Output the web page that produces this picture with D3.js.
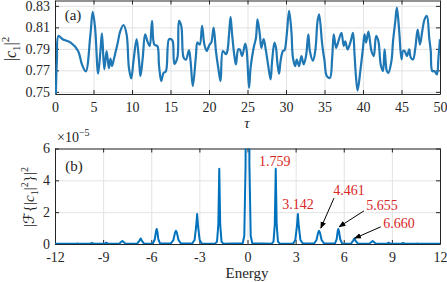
<!DOCTYPE html>
<html>
<head>
<meta charset="utf-8">
<script src="https://cdn.jsdelivr.net/npm/d3@7"></script>
<style>
  body { margin: 0; background: #fff; }
  svg { display: block; font-family: 'Liberation Serif', serif; }
  .grid line { stroke: #e3e3e3; stroke-width: 1; }
  .grid .domain { display: none; }
  .ax line, .ax .domain { stroke: #262626; }
  .ax text { fill: #262626; font-size: 14px; font-family: 'Liberation Serif', serif; }
</style>
</head>
<body>
<div id="chart"></div>
<script>
/** Panel (a): |c1|^2 against tau **/
const tau = [0, 0.1, 0.25, 0.45, 1, 2, 3, 3.5, 4, 4.6, 4.9, 5.2, 5.6, 5.9, 6.1, 6.4, 6.7, 7.0, 7.2, 7.4, 7.6,
  7.8, 8.1, 8.5, 8.9, 9.3, 9.6, 9.9, 10.2, 10.6, 10.9, 11.1, 11.4, 11.7, 12.0, 12.3, 12.6, 12.9, 13.3,
  13.5, 13.8, 14.1, 14.4, 14.8, 15.1, 15.3, 15.5, 15.9, 16.1, 16.4, 16.7, 17.0, 17.4, 17.6, 17.9, 18.3,
  18.5, 18.8, 19.1, 19.4, 19.7, 19.9, 20.1, 20.3, 20.6, 20.9, 21.2, 21.5, 21.8, 22.2, 22.4, 22.6, 22.8,
  23.0, 23.3, 23.5, 23.8, 24.0, 24.3, 24.7, 24.9, 25.2, 25.4, 25.8, 26.1, 26.3, 26.6, 26.8, 27.1, 27.4,
  27.7, 28.0, 28.2, 28.5, 28.7, 28.9, 29.1, 29.3, 29.6, 29.8, 30.1, 30.4, 30.7, 30.9, 31.2, 31.4, 31.7,
  32.0, 32.3, 32.6, 32.9, 33.1, 33.5, 33.8, 34.1, 34.3, 34.7, 35.0, 35.3, 35.7, 36.0, 36.2, 36.5, 36.8,
  37.2, 37.5, 37.7, 38.0, 38.4, 38.7, 38.9, 39.1, 39.3, 39.7, 40.0, 40.2, 40.4, 40.7, 41.1, 41.4, 41.7,
  42.0, 42.3, 42.6, 42.8, 43.1, 43.3, 43.7, 43.9, 44.2, 44.4, 44.7, 45.0, 45.2, 45.4, 45.7, 46.0, 46.2,
  46.5, 46.8, 47.1, 47.4, 47.7, 48.0, 48.3, 48.6, 48.8, 49.0, 49.3, 49.6, 49.8, 50.0];
const c1sq = [0.700, 0.745, 0.780, 0.802, 0.799, 0.796, 0.788, 0.7755, 0.769, 0.8035, 0.8244, 0.810, 0.767,
  0.788, 0.8045, 0.771, 0.788, 0.772, 0.781, 0.774, 0.779, 0.785, 0.794, 0.807, 0.8122, 0.8035, 0.7724,
  0.7625, 0.779, 0.799, 0.780, 0.7646, 0.782, 0.8035, 0.797, 0.7926, 0.816, 0.794, 0.7925, 0.7755, 0.760,
  0.7677, 0.769, 0.799, 0.799, 0.797, 0.776, 0.782, 0.816, 0.8113, 0.782, 0.780, 0.7886, 0.779, 0.7553,
  0.7833, 0.7958, 0.794, 0.8113, 0.794, 0.788, 0.791, 0.7942, 0.7958, 0.8098, 0.788, 0.7724, 0.760, 0.788,
  0.785, 0.7886, 0.8035, 0.8197, 0.8035, 0.7833, 0.7755, 0.7895, 0.7895, 0.7833, 0.7948, 0.788, 0.7537,
  0.7724, 0.791, 0.8003, 0.8175, 0.8035, 0.791, 0.799, 0.788, 0.774, 0.7615, 0.779, 0.7958, 0.791, 0.7755,
  0.767, 0.779, 0.788, 0.7886, 0.8035, 0.8253, 0.8066, 0.782, 0.774, 0.780, 0.774, 0.7833, 0.7755, 0.7833,
  0.8035, 0.788, 0.779, 0.788, 0.816, 0.8222, 0.7942, 0.779, 0.7646, 0.763, 0.782, 0.8035, 0.791, 0.797,
  0.805, 0.7926, 0.797, 0.7895, 0.797, 0.805, 0.7849, 0.763, 0.7512, 0.7724, 0.791, 0.8035, 0.7958, 0.806,
  0.788, 0.7833, 0.802, 0.797, 0.7755, 0.7693, 0.7895, 0.7693, 0.7677, 0.779, 0.797, 0.816, 0.8284, 0.8066,
  0.7802, 0.788, 0.788, 0.7833, 0.7895, 0.782, 0.7802, 0.791, 0.808, 0.794, 0.8066, 0.8175, 0.8206, 0.8003,
  0.788, 0.7693, 0.7693, 0.7662, 0.782, 0.799];
const tauTicks = [0, 5, 10, 15, 20, 25, 30, 35, 40, 45, 50];
const c1Ticks = [0.75, 0.77, 0.79, 0.81, 0.83];

/** Panel (b): spectrum, amplitude in units of 1e-5 **/
const energy = [-12, -10.7, -10.6, -10.5, -9.8, -9.7, -9.6, -8.9, -8.8, -8.7,
  -8.0, -7.88, -7.8, -7.72, -7.6, -6.88, -6.74, -6.66, -6.58, -6.45,
  -5.90, -5.78, -5.70, -5.66, -5.62, -5.56, -5.45, -4.78, -4.62, -4.52, -4.46, -4.40, -4.30, -4.15,
  -3.45, -3.30, -3.20, -3.14, -3.08, -2.98, -2.85, -2.02, -1.90, -1.82, -1.76, -1.70, -1.62, -1.50,
  -0.30, -0.20, -0.12, -0.08, 0, 0.08, 0.12, 0.20, 0.30,
  1.50, 1.62, 1.70, 1.76, 1.82, 1.90, 2.02, 2.85, 2.98, 3.08, 3.14, 3.20, 3.30, 3.45,
  4.15, 4.30, 4.40, 4.46, 4.52, 4.62, 4.78, 5.45, 5.56, 5.62, 5.66, 5.70, 5.78, 5.90,
  6.45, 6.58, 6.66, 6.74, 6.88, 7.6, 7.72, 7.8, 7.88, 8.0,
  8.7, 8.8, 8.9, 9.6, 9.7, 9.8, 10.5, 10.6, 10.7, 12];
const spec = [0.01, 0.01, 0.04, 0.01, 0.02, 0.06, 0.02, 0.02, 0.08, 0.02,
  0.02, 0.12, 0.19, 0.12, 0.02, 0.02, 0.2, 0.35, 0.2, 0.02,
  0.03, 0.3, 0.8, 0.94, 0.8, 0.3, 0.03, 0.03, 0.25, 0.7, 0.83, 0.7, 0.25, 0.03,
  0.03, 0.25, 1.1, 1.88, 1.1, 0.25, 0.03, 0.02, 0.15, 1.2, 4.73, 1.2, 0.15, 0.02,
  0.05, 0.5, 5, 30, 200, 30, 5, 0.5, 0.05,
  0.02, 0.15, 1.2, 4.73, 1.2, 0.15, 0.02, 0.03, 0.25, 1.1, 1.88, 1.1, 0.25, 0.03,
  0.03, 0.25, 0.7, 0.83, 0.7, 0.25, 0.03, 0.03, 0.3, 0.8, 0.94, 0.8, 0.3, 0.03,
  0.02, 0.2, 0.35, 0.2, 0.02, 0.02, 0.12, 0.19, 0.12, 0.02,
  0.02, 0.08, 0.02, 0.02, 0.06, 0.02, 0.01, 0.04, 0.01, 0.01];
const energyTicks = [-12, -9, -6, -3, 0, 3, 6, 9, 12];
const specTicks = [0, 2, 4, 6];

// peak labels: text anchor (E, amp) and optional arrow tail/tip
const peakLabels = ['1.759', '3.142', '4.461', '5.655', '6.660'];
const labelE = [1.70, 3.15, 6.33, 8.39, 9.45];
const labelAmp = [5.1, 2.38, 3.31, 2.31, 1.19];
const arrowFrom = [null, null, [5.39, 2.88], [7.26, 2.08], [8.31, 1.08]];
const arrowTo = [null, null, [4.57, 1.0], [5.71, 1.08], [6.68, 0.36]];

const W = 447, H = 282;
const left = 55, right = 440;

const svg = d3.select('#chart').append('svg')
  .attr('width', W).attr('height', H);

const defs = svg.append('defs');
defs.append('marker')
  .attr('id', 'arrow')
  .attr('viewBox', '0 0 10 10')
  .attr('refX', 9).attr('refY', 5)
  .attr('markerWidth', 7).attr('markerHeight', 7)
  .attr('markerUnits', 'userSpaceOnUse')
  .attr('orient', 'auto')
  .append('path').attr('d', 'M0,1 L10,5 L0,9 Z').attr('fill', '#000');

/** draws box, grid, inward ticks on all sides, tick labels **/
function frame(x, y, xTicks, yTicks, yFmt, clipId) {
  const [y0, y1] = y.range();
  const hgt = y0 - y1, wid = right - left;
  svg.append('g').attr('class', 'grid')
    .attr('transform', `translate(0,${y0})`)
    .call(d3.axisBottom(x).tickValues(xTicks).tickSize(-hgt).tickFormat(''));
  svg.append('g').attr('class', 'grid')
    .attr('transform', `translate(${left},0)`)
    .call(d3.axisLeft(y).tickValues(yTicks).tickSize(-wid).tickFormat(''));

  defs.append('clipPath').attr('id', clipId)
    .append('rect').attr('x', left).attr('y', y1).attr('width', wid).attr('height', hgt);

  const ax = (g) => g.attr('class', 'ax');
  svg.append('g').call(ax).attr('transform', `translate(0,${y0})`)
    .call(d3.axisBottom(x).tickValues(xTicks).tickSizeInner(-4).tickSizeOuter(0).tickPadding(8)
      .tickFormat((d) => String(d)));
  svg.append('g').call(ax).attr('transform', `translate(0,${y1})`)
    .call(d3.axisTop(x).tickValues(xTicks).tickSizeInner(-4).tickSizeOuter(0).tickFormat(''));
  svg.append('g').call(ax).attr('transform', `translate(${left},0)`)
    .call(d3.axisLeft(y).tickValues(yTicks).tickSizeInner(-4).tickSizeOuter(0).tickPadding(5)
      .tickFormat(yFmt));
  svg.append('g').call(ax).attr('transform', `translate(${right},0)`)
    .call(d3.axisRight(y).tickValues(yTicks).tickSizeInner(-4).tickSizeOuter(0).tickFormat(''));
}

/** Panel (a) **/
const xa = d3.scaleLinear().domain([0, 50]).range([left, right]);
const ya = d3.scaleLinear().domain([0.748, 0.835]).range([94, 0.5]);
frame(xa, ya, tauTicks, c1Ticks, d3.format('.2f'), 'clipA');

const seriesA = tau.map((t, i) => [t, c1sq[i]]);
svg.append('path')
  .datum(seriesA)
  .attr('clip-path', 'url(#clipA)')
  .attr('fill', 'none')
  .attr('stroke', '#1f77b4')
  .attr('stroke-width', 2.2)
  .attr('stroke-linejoin', 'round')
  .attr('d', d3.line().x((d) => xa(d[0])).y((d) => ya(d[1])).curve(d3.curveCatmullRom.alpha(0.5)));

svg.append('text').attr('x', 73).attr('y', 20).attr('text-anchor', 'middle')
  .style('font-size', '15px').attr('fill', '#262626').text('(a)');
svg.append('text').attr('x', 247).attr('y', 128).attr('text-anchor', 'middle')
  .style('font-size', '15px').style('font-style', 'italic').attr('fill', '#262626').text('τ');

const la = svg.append('text')
  .attr('transform', 'translate(16,49) rotate(-90)')
  .attr('text-anchor', 'middle').attr('fill', '#262626').style('font-size', '16px');
la.append('tspan').text('|');
la.append('tspan').style('font-style', 'italic').text('c');
la.append('tspan').attr('dy', 4).style('font-size', '11px').text('1');
la.append('tspan').attr('dy', -4).text('|');
la.append('tspan').attr('dy', -7).style('font-size', '11px').text('2');

/** Panel (b) **/
const xb = d3.scaleLinear().domain([-12, 12]).range([left, right]);
const yb = d3.scaleLinear().domain([0, 6]).range([244, 148.5]);
frame(xb, yb, energyTicks, specTicks, (d) => String(d), 'clipB');

const seriesB = energy.map((e, i) => [e, spec[i]]);
svg.append('path')
  .datum(seriesB)
  .attr('clip-path', 'url(#clipB)')
  .attr('fill', 'none')
  .attr('stroke', '#0072bd')
  .attr('stroke-width', 2)
  .attr('stroke-linejoin', 'round')
  .attr('d', d3.line().x((d) => xb(d[0])).y((d) => yb(d[1])));

svg.append('text').attr('x', 74).attr('y', 171).attr('text-anchor', 'middle')
  .style('font-size', '15px').attr('fill', '#262626').text('(b)');
svg.append('text').attr('x', 247).attr('y', 278).attr('text-anchor', 'middle')
  .style('font-size', '15px').attr('fill', '#262626').text('Energy');

const sc = svg.append('text').attr('x', 57).attr('y', 142)
  .attr('fill', '#262626').style('font-size', '14px');
sc.append('tspan').text('×10');
sc.append('tspan').attr('dy', -6).style('font-size', '10px').text('−5');

const lb = svg.append('text')
  .attr('transform', 'translate(34,197) rotate(-90)')
  .attr('text-anchor', 'middle').attr('fill', '#262626').style('font-size', '15px');
lb.append('tspan').text('|');
lb.append('tspan').style('font-family', "'DejaVu Sans', sans-serif").text('ℱ');
lb.append('tspan').text('{|');
lb.append('tspan').style('font-style', 'italic').text('c');
lb.append('tspan').attr('dy', 4).style('font-size', '10px').text('1');
lb.append('tspan').attr('dy', -4).text('|');
lb.append('tspan').attr('dy', -6).style('font-size', '10px').text('2');
lb.append('tspan').attr('dy', 6).text('}|');
lb.append('tspan').attr('dy', -6).style('font-size', '10px').text('2');

// arrows and red labels
peakLabels.forEach((lab, i) => {
  if (arrowFrom[i]) {
    svg.append('line')
      .attr('x1', xb(arrowFrom[i][0])).attr('y1', yb(arrowFrom[i][1]))
      .attr('x2', xb(arrowTo[i][0])).attr('y2', yb(arrowTo[i][1]))
      .attr('stroke', '#000').attr('stroke-width', 1)
      .attr('marker-end', 'url(#arrow)');
  }
  svg.append('text')
    .attr('x', xb(labelE[i])).attr('y', yb(labelAmp[i]))
    .attr('text-anchor', 'middle').attr('dominant-baseline', 'middle')
    .attr('fill', '#d92626').style('font-size', '14px')
    .text(lab);
});
</script>
</body>
</html>
